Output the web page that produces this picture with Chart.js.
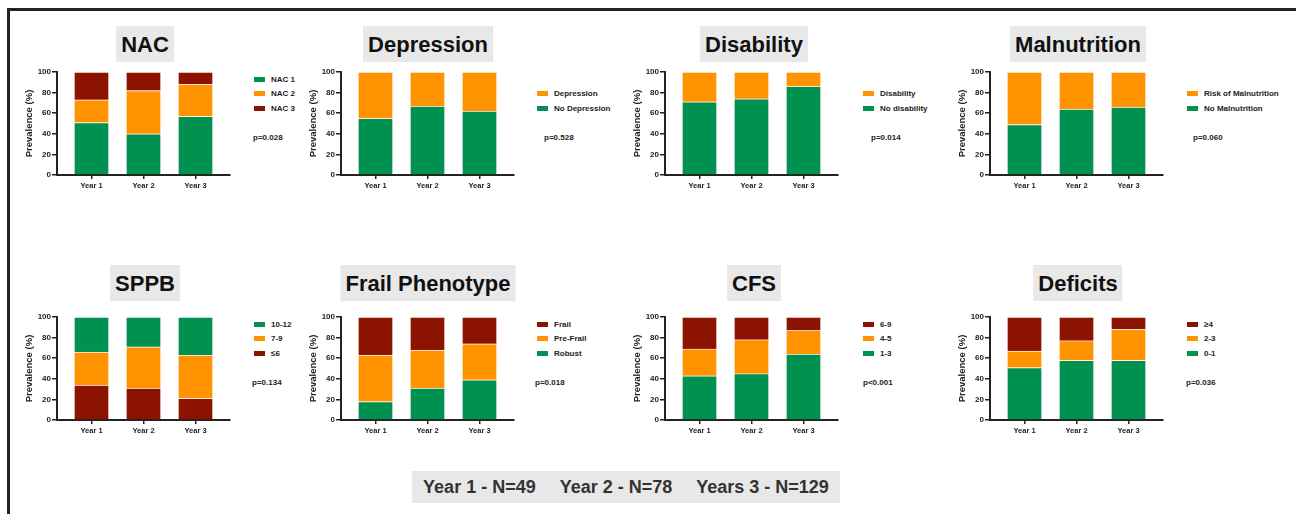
<!DOCTYPE html>
<html>
<head>
<meta charset="utf-8">
<script src="https://cdn.jsdelivr.net/npm/chart.js@4.4.1/dist/chart.umd.min.js"></script>
<style>
  body { margin: 0; background: #fff; font-family: "Liberation Sans", Arial, sans-serif; }
  #page { position: relative; width: 1296px; height: 514px; overflow: hidden; }
  .frame { position: absolute; left: 7px; top: 8px; width: 1400px; height: 600px; border-top: 3px solid #222; border-left: 3px solid #222; }
  .title { position: absolute; height: 36px; line-height: 37px; background: #e8e8e8; font-weight: bold; font-size: 22px; color: #111; padding: 0 5px; transform: translateX(-50%); white-space: nowrap; }
  canvas { position: absolute; }
  .legend { position: absolute; font-size: 8px; font-weight: bold; color: #222; }
  .legend div { height: 14.5px; display: flex; align-items: center; white-space: nowrap; }
  .sw { width: 11px; height: 5px; margin-right: 6px; }
  .pval { position: absolute; font-size: 8px; font-weight: bold; color: #222; line-height: 10px; }
  .footer { position: absolute; left: 412px; top: 471px; width: 428px; height: 32px; background: #e8e8e8; display: flex; align-items: center; justify-content: center; gap: 24px; font-size: 18px; font-weight: bold; color: #333; white-space: nowrap; }
</style>
</head>
<body>
<div id="page">
  <div class="frame"></div>
  <div class="footer"><span>Year 1 - N=49</span><span>Year 2 - N=78</span><span>Years 3 - N=129</span></div>
</div>
<script>
// data (percent, bottom segment first)
const years = ['Year 1', 'Year 2', 'Year 3']

const nac1 = [51, 40, 57]
const nac2 = [22, 42, 31]
const nac3 = [27, 18, 12]

const noDepression = [55, 67, 62]
const depression = [45, 33, 38]

const noDisability = [71, 74, 86]
const disability = [29, 26, 14]

const noMalnutrition = [49, 64, 66]
const riskMalnutrition = [51, 36, 34]

const sppbLow = [34, 31, 21]    // <=6
const sppbMid = [32, 40, 42]    // 7-9
const sppbHigh = [34, 29, 37]   // 10-12

const robust = [18, 31, 39]
const preFrail = [45, 37, 35]
const frail = [37, 32, 26]

const cfsLow = [43, 45, 64]     // 1-3
const cfsMid = [26, 33, 23]     // 4-5
const cfsHigh = [31, 22, 13]    // 6-9

const deficitsLow = [51, 58, 58]   // 0-1
const deficitsMid = [16, 19, 30]   // 2-3
const deficitsHigh = [33, 23, 12]  // >=4

const titles = ['NAC', 'Depression', 'Disability', 'Malnutrition', 'SPPB', 'Frail Phenotype', 'CFS', 'Deficits']
const pValues = ['p=0.028', 'p=0.528', 'p=0.014', 'p=0.060', 'p=0.134', 'p=0.018', 'p<0.001', 'p=0.036']

const GREEN = '#00904f'
const ORANGE = '#ff9400'
const RED = '#8c1300'

// series are listed bottom to top, legend lists them in the order given
const panels = [
    { series: [['NAC 1', nac1, GREEN], ['NAC 2', nac2, ORANGE], ['NAC 3', nac3, RED]], legend: [0, 1, 2] },
    { series: [['No Depression', noDepression, GREEN], ['Depression', depression, ORANGE]], legend: [1, 0] },
    { series: [['No disability', noDisability, GREEN], ['Disability', disability, ORANGE]], legend: [1, 0] },
    { series: [['No Malnutrition', noMalnutrition, GREEN], ['Risk of Malnutrition', riskMalnutrition, ORANGE]], legend: [1, 0] },
    { series: [['\u22646', sppbLow, RED], ['7-9', sppbMid, ORANGE], ['10-12', sppbHigh, GREEN]], legend: [2, 1, 0] },
    { series: [['Robust', robust, GREEN], ['Pre-Frail', preFrail, ORANGE], ['Frail', frail, RED]], legend: [2, 1, 0] },
    { series: [['1-3', cfsLow, GREEN], ['4-5', cfsMid, ORANGE], ['6-9', cfsHigh, RED]], legend: [2, 1, 0] },
    { series: [['0-1', deficitsLow, GREEN], ['2-3', deficitsMid, ORANGE], ['\u22654', deficitsHigh, RED]], legend: [2, 1, 0] },
]

// layout
const axisX = [57, 341, 665, 990]
const plotTop = [72, 317]
const titleX = [145, 428, 754, 1078]
const titleTop = [26, 265]
const legendX = [254, 537, 863, 1187]
const pX = [[253, 544, 871, 1193], [252, 535, 863, 1186]]
const PLOT_W = 173, PLOT_H = 103

Chart.defaults.font.family = '"Liberation Sans", Arial, sans-serif'
Chart.defaults.color = '#222'

const page = document.getElementById('page')

function addDiv(cls, css, html) {
    const d = document.createElement('div')
    d.className = cls
    Object.assign(d.style, css)
    d.innerHTML = html
    page.appendChild(d)
    return d
}

function drawPanel(idx) {
    const row = Math.floor(idx / 4), col = idx % 4
    const panel = panels[idx]
    const top = plotTop[row], ax = axisX[col]

    addDiv('title', { left: titleX[col] + 'px', top: titleTop[row] + 'px' }, titles[idx])

    const canvas = document.createElement('canvas')
    canvas.width = 50 + PLOT_W + 6
    canvas.height = 10 + PLOT_H + 20
    canvas.style.left = (ax - 50) + 'px'
    canvas.style.top = (top - 10) + 'px'
    page.appendChild(canvas)

    const half = 34.5 / 52
    new Chart(canvas, {
        type: 'bar',
        data: {
            datasets: panel.series.map(s => ({
                label: s[0],
                data: s[1].map((v, i) => ({ x: i, y: v })),
                backgroundColor: s[2],
                borderColor: 'rgba(255,240,235,0.4)',
                borderWidth: 1,
                barThickness: 35,
            }))
        },
        options: {
            responsive: false,
            animation: false,
            events: [],
            layout: { padding: { top: 10, right: 6, left: 0, bottom: 0 } },
            plugins: { legend: { display: false }, tooltip: { enabled: false } },
            scales: {
                x: {
                    type: 'linear',
                    stacked: true,
                    offset: false,
                    min: -half,
                    max: 2 + half,
                    afterBuildTicks: s => { s.ticks = years.map((_, i) => ({ value: i })) },
                    afterFit: s => { s.height = 20 },
                    ticks: { callback: v => years[v], font: { size: 7.5, weight: 'bold' }, padding: 2, maxRotation: 0, autoSkip: false },
                    grid: { offset: false, drawOnChartArea: false, tickLength: 4, color: '#222', lineWidth: 1.5 },
                    border: { color: '#222', width: 2 },
                },
                y: {
                    stacked: true,
                    min: 0,
                    max: 100,
                    afterFit: s => { s.width = 50 },
                    ticks: { stepSize: 20, font: { size: 8, weight: 'bold' }, padding: 1 },
                    title: { display: true, text: 'Prevalence (%)', font: { size: 9.5, weight: 'bold' }, padding: { top: 17, bottom: 0 } },
                    grid: { drawOnChartArea: false, tickLength: 5, color: '#222', lineWidth: 1.5 },
                    border: { color: '#222', width: 2 },
                }
            }
        }
    })

    // legend: bottom aligned at plot top + 36
    const n = panel.legend.length
    const items = panel.legend.map(k => {
        const s = panel.series[k]
        return `<div><span class="sw" style="background:${s[2]}"></span>${s[0]}</div>`
    }).join('')
    addDiv('legend', { left: legendX[col] + 'px', top: (top + 36 + 7.25 - n * 14.5) + 'px' }, items)

    addDiv('pval', { left: pX[row][col] + 'px', top: (top + 61) + 'px' }, pValues[idx])
}

for (let i = 0; i < panels.length; i++) drawPanel(i)
</script>
</body>
</html>
